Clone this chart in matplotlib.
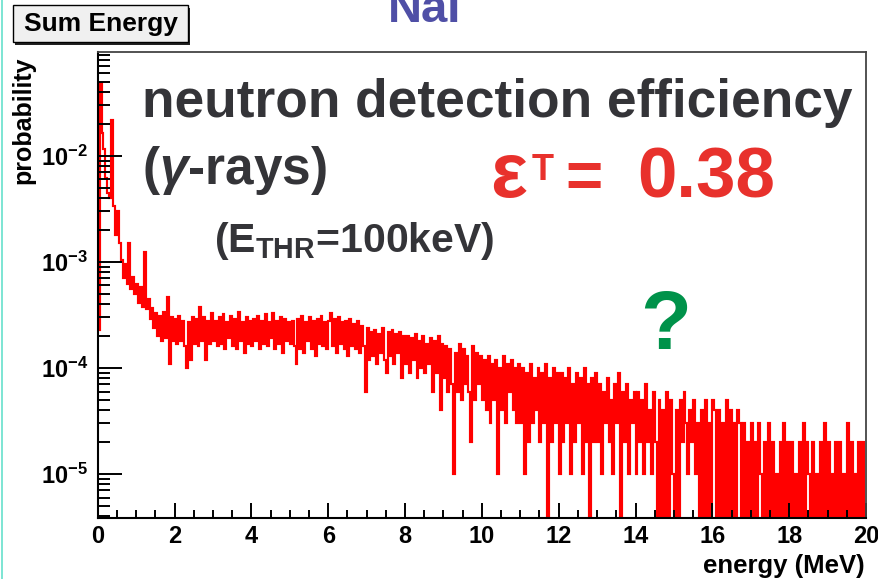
import numpy as np
import matplotlib
matplotlib.use('Agg')
import matplotlib.pyplot as plt
from matplotlib.patches import Rectangle
from matplotlib.lines import Line2D

plt.rcParams['font.family'] = ['Liberation Sans', 'DejaVu Sans']
plt.rcParams['mathtext.fontset'] = 'custom'
plt.rcParams['mathtext.rm'] = 'Liberation Sans:bold'
plt.rcParams['mathtext.bf'] = 'Liberation Sans:bold'
plt.rcParams['mathtext.it'] = 'Liberation Sans:bold:italic'

# histogram: counts per 0.05 MeV bin (1 count = 1e-5 probability)
bin_width = 0.05
counts = [
    23, 4900, 1650, 1150, 620, 450, 400, 2200, 340, 180, 300, 150, 105, 70, 95, 62, 150, 55, 72, 50,
    62, 41, 58, 38, 125, 36, 45, 29, 37, 24, 33, 20, 31, 18, 34, 19, 47, 11, 30, 18,
    29, 17, 31, 18, 28, 16, 10, 27, 12, 30, 17, 29, 16, 38, 18, 30, 12, 28, 17, 33,
    18, 28, 16, 30, 17, 32, 15, 27, 19, 31, 16, 29, 15, 34, 18, 27, 14, 30, 17, 28,
    16, 29, 18, 31, 15, 28, 17, 32, 16, 27, 19, 33, 15, 28, 17, 30, 14, 29, 18, 27,
    17, 28, 16, 11, 29, 15, 31, 14, 27, 18, 30, 15, 28, 13, 29, 17, 31, 16, 27, 15,
    28, 33, 16, 29, 14, 30, 17, 27, 15, 28, 13, 29, 16, 26, 15, 28, 14, 25, 16, 6,
    24, 12, 22, 13, 23, 11, 21, 14, 24, 12, 9, 22, 13, 23, 11, 21, 14, 22, 8, 20,
    11, 20, 9, 19, 12, 21, 8, 18, 10, 20, 9, 17, 11, 19, 6, 18, 9, 20, 4, 17,
    8, 16, 6, 15, 7, 1, 14, 6, 17, 5, 15, 7, 13, 6, 2, 16, 5, 14, 7, 13,
    5, 12, 4, 13, 3, 11, 5, 12, 1, 10, 4, 13, 3, 11, 6, 12, 4, 10, 3, 11,
    3, 10, 1, 9, 2, 11, 3, 8, 4, 10, 2, 9, 3, 11, 0, 8, 2, 10, 3, 9,
    1, 9, 2, 8, 3, 10, 1, 7, 2, 9, 3, 8, 1, 10, 2, 7, 0, 8, 2, 9,
    2, 7, 1, 6, 3, 8, 2, 5, 1, 7, 3, 9, 0, 6, 2, 7, 1, 5, 3, 6,
    1, 6, 2, 5, 1, 7, 2, 4, 1, 6, 2, 0, 5, 0, 4, 0, 6, 0, 5, 1,
    0, 4, 0, 5, 2, 6, 3, 1, 4, 2, 5, 1, 3, 0, 4, 0, 5, 0, 3, 0,
    5, 4, 0, 4, 0, 3, 0, 5, 0, 4, 0, 3, 0, 4, 3, 0, 3, 0, 2, 0,
    3, 0, 2, 0, 3, 1, 0, 2, 0, 3, 0, 2, 0, 1, 0, 2, 0, 3, 0, 2,
    0, 2, 0, 1, 0, 2, 0, 3, 0, 2, 1, 0, 2, 0, 1, 0, 2, 0, 3, 0,
    2, 0, 1, 0, 2, 0, 2, 0, 1, 0, 3, 0, 2, 0, 1, 0, 2, 0, 2, 0,
]
prob_per_count = 1e-5
x_ticks = [0, 2, 4, 6, 8, 10, 12, 14, 16, 18, 20]
y_ticks = [1e-5, 1e-4, 1e-3, 1e-2]
y_labels = [r'$10^{-5}$', r'$10^{-4}$', r'$10^{-3}$', r'$10^{-2}$']

W, H = 879, 579
fig = plt.figure(figsize=(W / 100, H / 100), dpi=100)
ax = fig.add_axes([97.7 / W, 1 - 518 / H, (866 - 97.7) / W, (518 - 52) / H])

def fxy(x, y):
    return x / W, 1 - y / H

counts = np.array(counts, dtype=float)
edges = np.arange(len(counts) + 1) * bin_width
probs = np.where(counts > 0, counts * prob_per_count, 1e-8)
ax.stairs(probs, edges, baseline=None, color='red', lw=1.55)

ax.set_yscale('log')
ax.set_xlim(0, 20)
ax.set_ylim(3.85e-6, 0.0955)
ax.set_xticks(x_ticks)
ax.set_xticklabels([str(t) for t in x_ticks])
ax.set_xticks(np.arange(0, 20.01, 0.5), minor=True)
ax.set_yticks(y_ticks)
ax.set_yticklabels(y_labels)
minor_y = [m * 10.0 ** e for e in range(-6, -1) for m in range(2, 10)]
ax.set_yticks([v for v in minor_y if 3.85e-6 < v < 0.0955], minor=True)
ax.yaxis.set_minor_formatter(plt.NullFormatter())

ax.tick_params(axis='x', which='major', direction='in', length=11, width=1.4,
               labelsize=17, pad=5, top=False)
ax.tick_params(axis='x', which='minor', direction='in', length=5.8, width=1.4, top=False)
ax.tick_params(axis='y', which='major', direction='in', length=17, width=1.4,
               labelsize=17, pad=7, right=False)
ax.tick_params(axis='y', which='minor', direction='in', length=8.5, width=1.4, right=False)
for lab in ax.get_xticklabels():
    lab.set_fontweight('bold')

for s in ('left', 'bottom'):
    ax.spines[s].set_linewidth(1.5)
    ax.spines[s].set_color('black')
for s in ('top', 'right'):
    ax.spines[s].set_linewidth(1.3)
    ax.spines[s].set_color('#444444')

# axis titles
fig.text(*fxy(865, 578), 'energy (MeV)', ha='right', va='bottom',
         fontsize=18.5, fontweight='bold')
fig.text(*fxy(23, 120), 'probability', ha='center', va='center', rotation=90,
         fontsize=18, fontweight='bold')

# title box
fig.add_artist(Rectangle(fxy(15.5, 44.5), 175 / W, 37 / H, transform=fig.transFigure,
                         facecolor='#222222', edgecolor='none'))
fig.add_artist(Rectangle(fxy(13, 42), 175 / W, 37 / H, transform=fig.transFigure,
                         facecolor='#f0f0f0', edgecolor='black', lw=1))
fig.text(*fxy(100.5, 24), 'Sum Energy', ha='center', va='center',
         fontsize=19, fontweight='bold')

# slide annotations
dark = '#343438'
fig.text(*fxy(142, 117), 'neutron detection efficiency', ha='left', va='baseline',
         fontsize=38.3, fontweight='bold', color=dark)
fig.text(*fxy(142, 184), r'($\mathit{\gamma}$-rays)', ha='left', va='baseline',
         fontsize=37, fontweight='bold', color=dark)
fig.text(*fxy(214, 252), r'(E$_{\mathrm{THR}}$=100keV)', ha='left', va='baseline',
         fontsize=29.5, fontweight='bold', color=dark)
red = '#e8312c'
fig.text(*fxy(490, 197), '\u03b5', ha='left', va='baseline', fontsize=56,
         fontweight='bold', color=red)
fig.text(*fxy(532, 180), 'T', ha='left', va='baseline', fontsize=26,
         fontweight='bold', color=red)
fig.text(*fxy(565, 197), '=', ha='left', va='baseline', fontsize=46,
         fontweight='bold', color=red)
fig.text(*fxy(775, 197), '0.38', ha='right', va='baseline', fontsize=51,
         fontweight='bold', color=red)
fig.text(*fxy(666, 349), '?', ha='center', va='baseline', fontsize=60,
         fontweight='bold', color='#00924a')
fig.text(*fxy(425, 22), 'NaI', ha='center', va='baseline', fontsize=34,
         fontweight='bold', color='#4f4fa6')

fig.add_artist(Line2D([1.7 / W, 1.7 / W], [0, 1], transform=fig.transFigure,
                      color='#66e0cc', lw=1.2))

fig.savefig('out.png', dpi=100)
